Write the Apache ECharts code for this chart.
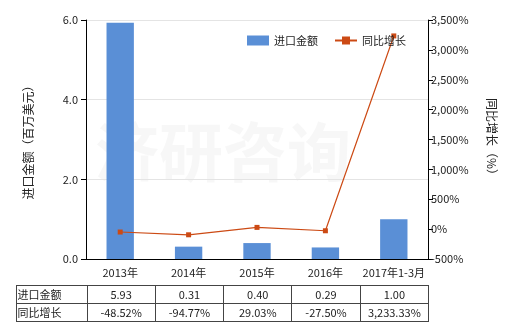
<!DOCTYPE html>
<html><head><meta charset="utf-8">
<script src="https://cdn.jsdelivr.net/npm/echarts@6/dist/echarts.min.js"></script>
<style>
html,body{margin:0;padding:0;background:#fff;}
#c{position:absolute;left:0;top:0;width:520px;height:330px;}
#t{position:absolute;left:15.5px;top:285px;border-collapse:collapse;font-family:"Noto Sans CJK SC",sans-serif;font-size:11px;color:#222;}
#t td{border:1px solid #444;height:17px;padding:0;line-height:17px;text-align:center;width:67.3px;}
#t td.h{width:69px;text-align:left;padding-left:1px;}
</style>
</head><body>
<div id="c"></div>
<table id="t"></table>
<script>
var categories = ['2013年','2014年','2015年','2016年','2017年1-3月'];
var importValues = [5.93, 0.31, 0.40, 0.29, 1.00];
var growthValues = [-48.52, -94.77, 29.03, -27.50, 3233.33];
var importLabels = ['5.93','0.31','0.40','0.29','1.00'];
var growthLabels = ['-48.52%','-94.77%','29.03%','-27.50%','3,233.33%'];
var seriesNames = ['进口金额','同比增长'];

var tbl = document.getElementById('t');
function row(name, vals){
  var tr = document.createElement('tr');
  var h = document.createElement('td'); h.className='h'; h.textContent=name; tr.appendChild(h);
  vals.forEach(function(v){var td=document.createElement('td'); td.textContent=v; tr.appendChild(td);});
  tbl.appendChild(tr);
}
row(seriesNames[0], importLabels);
row(seriesNames[1], growthLabels);

var font = '"Noto Sans CJK SC", sans-serif';
var chart = echarts.init(document.getElementById('c'), null, {renderer:'canvas'});
chart.setOption({
  animation:false,
  textStyle:{fontFamily:font},
  grid:{left:86, right:92, top:20, bottom:71},
  graphic:[{type:'text', left:95, top:120, style:{text:'济研咨询', font:'bold 64px '+font, fill:'rgba(200,200,200,0.14)'}}],
  legend:{
    top:30, left:242, itemWidth:22, itemHeight:10, itemGap:16,
    textStyle:{fontSize:11, color:'#222', fontFamily:font},
    data:[{name:seriesNames[0], icon:'rect'}, {name:seriesNames[1]}]
  },
  xAxis:{
    type:'category', data:categories,
    axisLine:{lineStyle:{color:'#000'}},
    axisTick:{alignWithLabel:true, length:5, lineStyle:{color:'#000'}},
    axisLabel:{color:'#222', fontSize:11, margin:8, interval:0}
  },
  yAxis:[{
    type:'value', min:0, max:6, interval:2,
    name:'进口金额（百万美元）', nameLocation:'middle', nameGap:52, nameRotate:90,
    nameTextStyle:{fontSize:12, color:'#222'},
    axisLine:{show:true, lineStyle:{color:'#000'}},
    axisTick:{show:true, length:5, lineStyle:{color:'#000'}},
    axisLabel:{color:'#222', fontSize:11, formatter:function(v){return v.toFixed(1);}},
    splitLine:{lineStyle:{color:'#e4e4e4'}}
  },{
    type:'value', min:-500, max:3500, interval:500, position:'right',
    name:'同比增长（%）', nameLocation:'middle', nameGap:58, nameRotate:-90,
    nameTextStyle:{fontSize:12, color:'#222'},
    axisLine:{show:true, lineStyle:{color:'#000'}},
    axisTick:{show:true, length:5, lineStyle:{color:'#000'}},
    axisLabel:{color:'#222', fontSize:11, margin:3, formatter:function(v){return v.toLocaleString('en-US')+'%';}},
    splitLine:{show:false}
  }],
  series:[{
    name:seriesNames[0], type:'bar', data:importValues, barWidth:'40%',
    itemStyle:{color:'#5a8fd6'}
  },{
    name:seriesNames[1], type:'line', yAxisIndex:1, data:growthValues,
    symbol:'rect', symbolSize:5, lineStyle:{color:'#cc4a14', width:1.2},
    itemStyle:{color:'#cc4a14'}
  }]
});
</script>
</body></html>
